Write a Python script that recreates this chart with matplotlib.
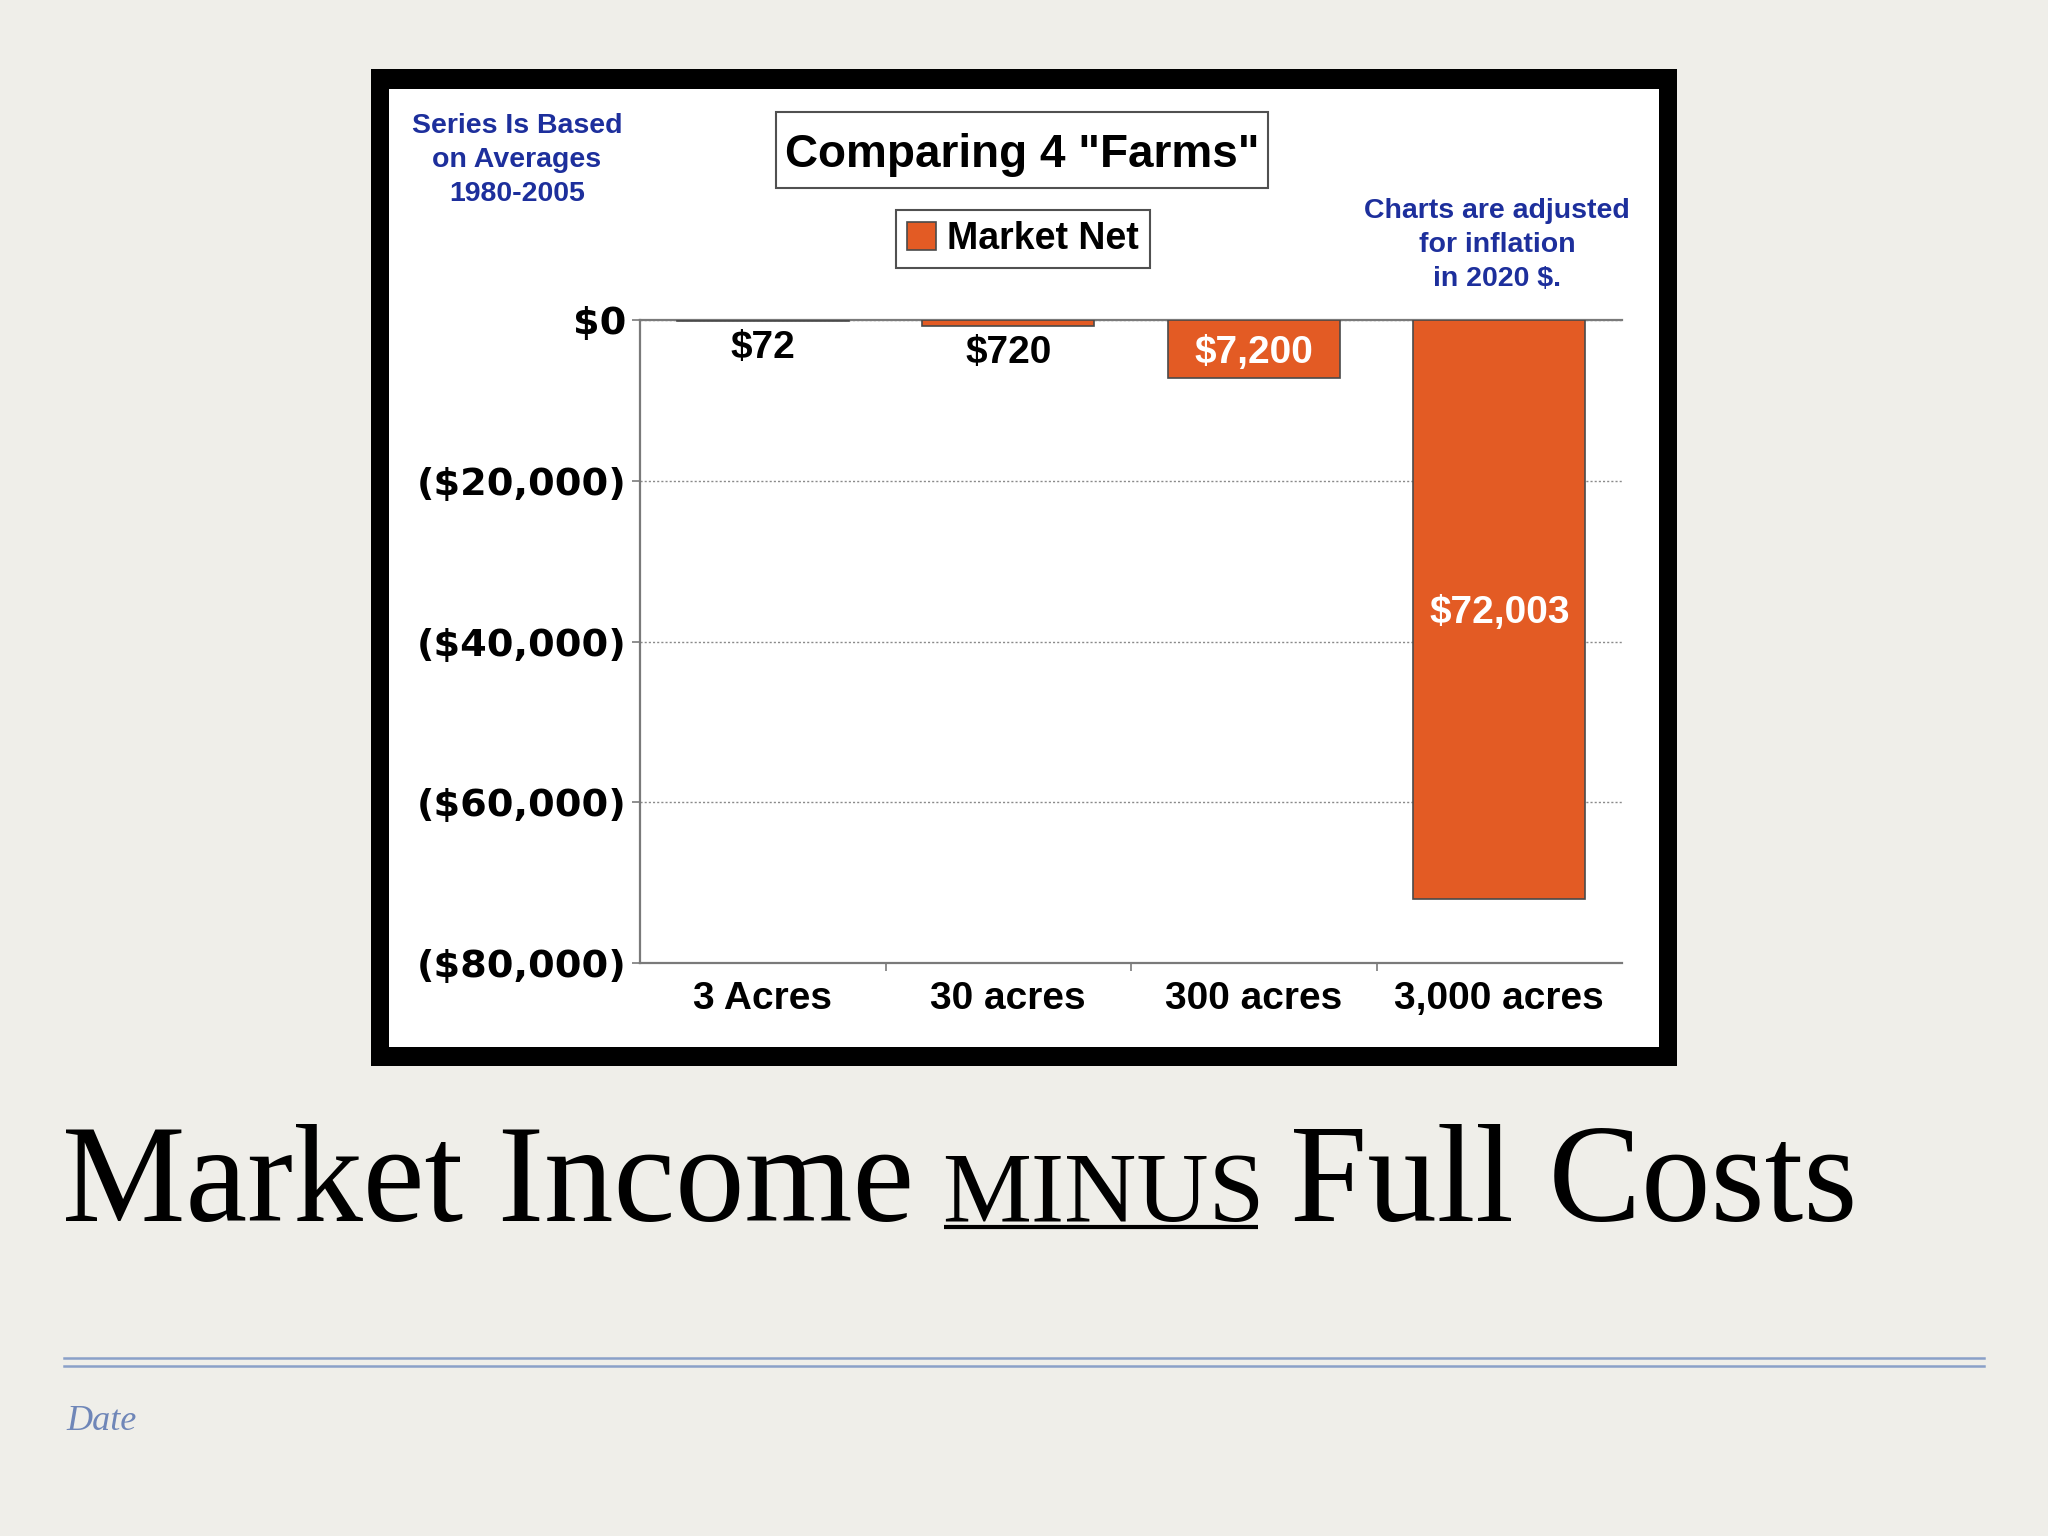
import matplotlib.pyplot as plt
from matplotlib.patches import Rectangle
from matplotlib.ticker import FuncFormatter

plt.rcParams["font.family"] = ["Liberation Sans", "DejaVu Sans"]

# data
farms = ["3 Acres", "30 acres", "300 acres", "3,000 acres"]
market_net = [-72, -720, -7200, -72003]
bar_labels = ["$72", "$720", "$7,200", "$72,003"]
y_ticks = [0, -20000, -40000, -60000, -80000]
series_name = "Market Net"

W, H = 2048, 1536
orange = "#e35b24"
blue = "#1d2f9c"
narrow = ["Liberation Sans Narrow", "Liberation Sans", "DejaVu Sans"]

fig = plt.figure(figsize=(20.48, 15.36), dpi=100)
fig.patch.set_facecolor("#efeee9")

# slide background layer, pixel coordinates
bg = fig.add_axes([0, 0, 1, 1])
bg.set_xlim(0, W)
bg.set_ylim(H, 0)
bg.axis("off")

# black picture frame
bg.add_patch(Rectangle((371, 69), 1306, 997, facecolor="black"))
bg.add_patch(Rectangle((389, 89), 1270, 958, facecolor="white"))

# chart title box
bg.add_patch(Rectangle((776, 112), 492, 76, facecolor="white", edgecolor="#505050", lw=1.5))
bg.text(1022, 155, 'Comparing 4 "Farms"', ha="center", va="center",
        fontsize=33, fontweight="bold")

# blue side notes
bg.text(517, 160, "Series Is Based\non Averages\n1980-2005", ha="center", va="center",
        multialignment="center", fontsize=20.5, fontweight="bold", color=blue, linespacing=1.42)
bg.text(1497, 245, "Charts are adjusted\nfor inflation\nin 2020 $.", ha="center", va="center",
        multialignment="center", fontsize=20.5, fontweight="bold", color=blue, linespacing=1.42)

# slide title
serif = ["Liberation Serif", "DejaVu Serif"]
bg.text(62, 1221, "Market Income", fontfamily=serif, fontsize=100, va="baseline")
bg.text(942, 1221, "MINUS", fontfamily=serif, fontsize=72, va="baseline")
bg.plot([944, 1258], [1227, 1227], color="black", lw=3, solid_capstyle="butt")
bg.text(1290, 1221, "Full Costs", fontfamily=serif, fontsize=100, va="baseline")

# double rule and footer
bg.plot([64, 1984], [1358, 1358], color="#8aa0c8", lw=1.8)
bg.plot([64, 1984], [1366, 1366], color="#8aa0c8", lw=1.8)
bg.text(66, 1421, "Date", fontfamily=serif, style="italic", fontsize=26,
        color="#6f86b8", va="center")

# the chart itself
ax = fig.add_axes([640 / W, 1 - 963 / H, 982 / W, 643 / H])
ax.set_facecolor("white")
x = range(len(farms))
bars = ax.bar(x, market_net, width=0.7, color=orange, edgecolor="#4a4a4a",
              lw=1.2, label=series_name, zorder=3)
ax.set_xlim(-0.5, len(farms) - 0.5)
ax.set_ylim(-80000, 0)

for s in ["left", "top", "bottom"]:
    ax.spines[s].set_color("#7a7a7a")
    ax.spines[s].set_linewidth(1.6)
ax.spines["right"].set_visible(False)

ax.set_yticks(y_ticks)
ax.yaxis.set_major_formatter(FuncFormatter(
    lambda v, p: "$0" if v == 0 else f"(${abs(v):,.0f})"))
ax.tick_params(axis="y", length=6, width=1.2, color="#7a7a7a", pad=4)
for t in ax.get_yticklabels():
    t.set_fontfamily("DejaVu Sans")
    t.set_fontweight("bold")
    t.set_fontsize(27.5)
ax.yaxis.grid(True, linestyle=(0, (1.5, 1.5)), color="#8a8a8a", lw=1, zorder=0)

ax.set_xticks(list(x))
ax.set_xticklabels(farms, fontfamily=narrow, fontweight="bold", fontsize=28)
ax.tick_params(axis="x", length=0, pad=13)
ax.set_xticks([i + 0.5 for i in range(len(farms) - 1)], minor=True)
ax.tick_params(axis="x", which="minor", length=6, width=1.2, color="#7a7a7a")

for b, v, lab in zip(bars, market_net, bar_labels):
    cx = b.get_x() + b.get_width() / 2
    if abs(v) > 5000:
        ax.text(cx, v / 2, lab, ha="center", va="center_baseline", color="white",
                fontfamily=narrow, fontweight="bold", fontsize=28, zorder=4)
    else:
        ax.annotate(lab, (cx, v), xytext=(0, -17), textcoords="offset points",
                    ha="center", va="center_baseline", fontfamily=narrow,
                    fontweight="bold", fontsize=28, zorder=4)

leg = ax.legend(loc="center", bbox_to_anchor=(1023 / W, 1 - 239 / H),
                bbox_transform=fig.transFigure, fancybox=False, framealpha=1,
                edgecolor="#505050", handlelength=0.75, handleheight=0.75,
                handletextpad=0.3, borderpad=0.3, borderaxespad=0,
                prop={"family": narrow, "weight": "bold", "size": 27})
leg.get_frame().set_linewidth(1.5)

fig.savefig("out.png", dpi=100, facecolor=fig.get_facecolor())
